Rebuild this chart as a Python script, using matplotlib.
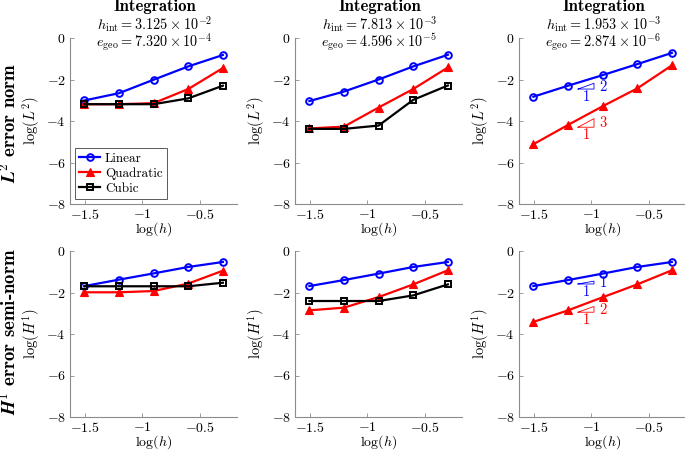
# -*- coding: utf-8 -*-

import numpy as np
import matplotlib
matplotlib.use('Agg')
import matplotlib.pyplot as plt

plt.rcParams['font.family'] = 'cmr10'
plt.rcParams['mathtext.fontset'] = 'cm'
plt.rcParams['axes.unicode_minus'] = False

# data: log10 of mesh size h = 1/32 ... 1/2
log_h = [-1.505, -1.204, -0.903, -0.602, -0.301]

h_int = ['3.125 \\times 10^{-2}', '7.813 \\times 10^{-3}', '1.953 \\times 10^{-3}']
e_geo = ['7.320 \\times 10^{-4}', '4.596 \\times 10^{-5}', '2.874 \\times 10^{-6}']

# L2 error norm, one list per column
l2_linear = [[-3.01, -2.66, -2.01, -1.37, -0.82],
             [-3.04, -2.58, -2.00, -1.37, -0.81],
             [-2.83, -2.30, -1.79, -1.26, -0.72]]
l2_quadratic = [[-3.19, -3.19, -3.14, -2.46, -1.45],
                [-4.36, -4.27, -3.35, -2.46, -1.42],
                [-5.12, -4.19, -3.29, -2.43, -1.32]]
l2_cubic = [[-3.19, -3.19, -3.19, -2.91, -2.30],
            [-4.38, -4.38, -4.22, -2.98, -2.29],
            None]

# H1 error semi-norm
h1_linear = [[-1.69, -1.38, -1.08, -0.77, -0.53],
             [-1.69, -1.40, -1.09, -0.77, -0.53],
             [-1.69, -1.40, -1.09, -0.77, -0.53]]
h1_quadratic = [[-1.99, -1.99, -1.93, -1.57, -0.95],
                [-2.86, -2.73, -2.22, -1.61, -0.93],
                [-3.42, -2.86, -2.23, -1.61, -0.93]]
h1_cubic = [[-1.70, -1.70, -1.70, -1.70, -1.53],
            [-2.41, -2.41, -2.41, -2.14, -1.61],
            None]

# slope triangles (last column only): x span, base y, slope
tri_x = [-1.117, -0.978]
l2_tri = [(-2.46, 2, 'blue'), (-4.30, 3, 'red')]
h1_tri = [(-1.59, 1, 'blue'), (-2.95, 2, 'red')]

xticks = [-1.5, -1.0, -0.5]
xticklabels = ['$-1.5$', '$-1$', '$-0.5$']
yticks = [0, -2, -4, -6, -8]
yticklabels = ['$0$', '$-2$', '$-4$', '$-6$', '$-8$']

W, H = 685.0, 450.0
fig = plt.figure(figsize=(W / 100, H / 100), dpi=100)

lefts = [70, 295, 519]
bottoms = [204, 417]
aw, ah = 167, 166
gray = '#8c8c8c'


def draw_triangle(ax, y0, slope, color):
    x0, x1 = tri_x
    y1 = y0 + slope * (x1 - x0)
    ax.plot([x0, x1, x1, x0], [y0, y0, y1, y0], color=color, lw=0.6)
    ax.text(x1 + 0.04, (y0 + y1) / 2, '$%d$' % slope, color=color, fontsize=10.5,
            ha='left', va='center')
    ax.text((x0 + x1) / 2, y0 - 0.36, '$1$', color=color, fontsize=10.5,
            ha='center', va='center')


rows = [(l2_linear, l2_quadratic, l2_cubic, r'$\log(L^2)$', l2_tri),
        (h1_linear, h1_quadratic, h1_cubic, r'$\log(H^1)$', h1_tri)]

for r, (lin, quad, cub, ylab, tris) in enumerate(rows):
    for c in range(3):
        ax = fig.add_axes([lefts[c] / W, 1 - bottoms[r] / H, aw / W, ah / H])
        ax.plot(log_h, lin[c], color='blue', lw=1.6, marker='o', ms=4.8,
                mfc='none', mew=1.4, label='Linear')
        ax.plot(log_h, quad[c], color='red', lw=1.6, marker='^', ms=5.2,
                mew=0.8, label='Quadratic')
        if cub[c] is not None:
            ax.plot(log_h, cub[c], color='black', lw=1.6, marker='s', ms=4.8,
                    mfc='none', mew=1.4, label='Cubic')
        if c == 2:
            for y0, s, col in tris:
                draw_triangle(ax, y0, s, col)

        ax.set_xlim(-1.63, -0.178)
        ax.set_ylim(-8, 0)
        ax.set_xticks(xticks)
        ax.set_xticklabels(xticklabels)
        ax.set_yticks(yticks)
        ax.set_yticklabels(yticklabels)
        ax.tick_params(direction='in', length=3, width=0.6, color=gray,
                       labelsize=10, pad=3)
        for s in ['top', 'right']:
            ax.spines[s].set_visible(False)
        for s in ['left', 'bottom']:
            ax.spines[s].set_color(gray)
            ax.spines[s].set_linewidth(0.8)
        ax.patch.set_alpha(0)

        ax.set_xlabel(r'$\log(h)$', fontsize=10)
        ax.xaxis.set_label_coords(0.5, -16.5 / ah)
        ax.set_ylabel(ylab, fontsize=10.5)
        ax.yaxis.set_label_coords(-28 / aw, 0.5)

        if r == 0:
            cx = (lefts[c] + aw / 2 + 1) / W
            fig.text(cx, 1 - 7 / H, 'Integration', family='cmb10', fontsize=12,
                     ha='center', va='center')
            fig.text(cx, 1 - 24.5 / H, r'$h_{\mathrm{int}} = %s$' % h_int[c],
                     fontsize=10.3, ha='center', va='center')
            fig.text(cx, 1 - 42.5 / H, r'$e_{\mathrm{geo}} = %s$' % e_geo[c],
                     fontsize=10.3, ha='center', va='center')

        if r == 0 and c == 0:
            leg = ax.legend(loc='lower left', fontsize=9.5, fancybox=False,
                            framealpha=1, edgecolor='0.35', borderaxespad=0.4,
                            handlelength=1.6, handletextpad=0.35,
                            borderpad=0.3, labelspacing=0.2)
            leg.get_frame().set_linewidth(0.7)

fig.text(10 / W, 1 - 123 / H, r'$\mathbfit{L}^{\mathbf{2}}$ error norm',
         family='cmb10', fontsize=13.5, rotation=90, ha='center', va='center')
fig.text(10 / W, 1 - 332 / H, r'$\mathbfit{H}^{\mathbf{1}}$ error semi-norm',
         family='cmb10', fontsize=13.5, rotation=90, ha='center', va='center')

fig.savefig('out.png', dpi=100)
